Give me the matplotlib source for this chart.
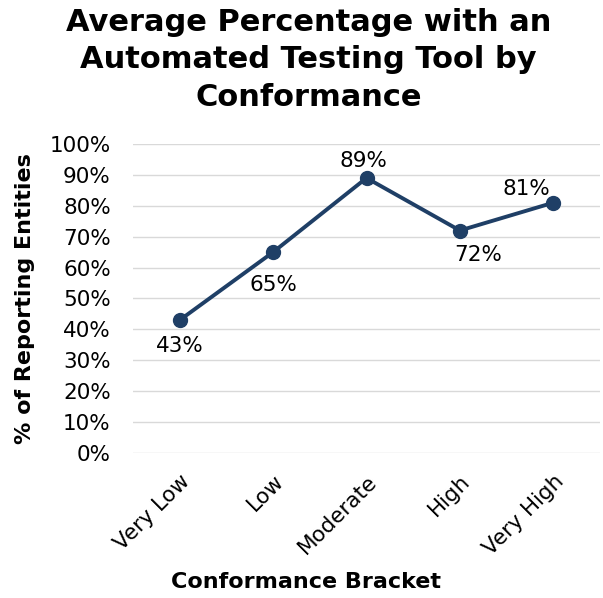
import matplotlib
matplotlib.use('Agg')
import matplotlib.pyplot as plt
from matplotlib.ticker import PercentFormatter

# Chart data
brackets = ['Very Low', 'Low', 'Moderate', 'High', 'Very High']
pct_with_tool = [0.43, 0.65, 0.89, 0.72, 0.81]
label_text = ['43%', '65%', '89%', '72%', '81%']
# label placement: (x offset px, y offset px)
label_offsets = [(0, -26), (0, -33), (-3, 17), (18, -24), (-27, 14)]

LINE_COLOR = '#1F3F66'


def main():
    fig = plt.figure(figsize=(6.03, 5.98), dpi=100)
    ax = fig.add_axes([0.2206, 0.2425, 0.7744, 0.5167])

    x = list(range(len(brackets)))
    ax.plot(x, pct_with_tool, color=LINE_COLOR, linewidth=2.8,
            marker='o', markersize=10, zorder=3)

    for xi, yi, txt, (dx, dy) in zip(x, pct_with_tool, label_text, label_offsets):
        ax.annotate(txt, (xi, yi), xytext=(dx * 0.72, dy * 0.72),
                    textcoords='offset points', ha='center', va='center',
                    fontsize=15.5, color='#000000')

    ax.set_xlim(-0.5, len(brackets) - 0.5)
    ax.set_ylim(0, 1)
    ax.set_yticks([i / 10 for i in range(11)])
    ax.yaxis.set_major_formatter(PercentFormatter(1.0, decimals=0))
    ax.grid(axis='y', color='#d9d9d9', linewidth=1.0)
    ax.set_axisbelow(True)
    for s in ax.spines.values():
        s.set_visible(False)
    ax.tick_params(length=0, labelsize=15.5)
    ax.tick_params(axis='y', pad=16)
    ax.tick_params(axis='x', pad=13)

    ax.set_xticks(x)
    ax.set_xticklabels(brackets, rotation=45, ha='right', rotation_mode='anchor')

    fig.text(0.041, 0.5, '% of Reporting Entities', rotation=90, ha='center',
             va='center', fontsize=16, fontweight='bold')

    fig.text(0.512, 0.9, 'Average Percentage with an\nAutomated Testing Tool by\nConformance',
             ha='center', va='center', fontsize=22, fontweight='bold', linespacing=1.38)
    fig.text(0.508, 0.027, 'Conformance Bracket', ha='center', va='center',
             fontsize=16, fontweight='bold')

    fig.savefig('out.png', dpi=100)


if __name__ == '__main__':
    main()
